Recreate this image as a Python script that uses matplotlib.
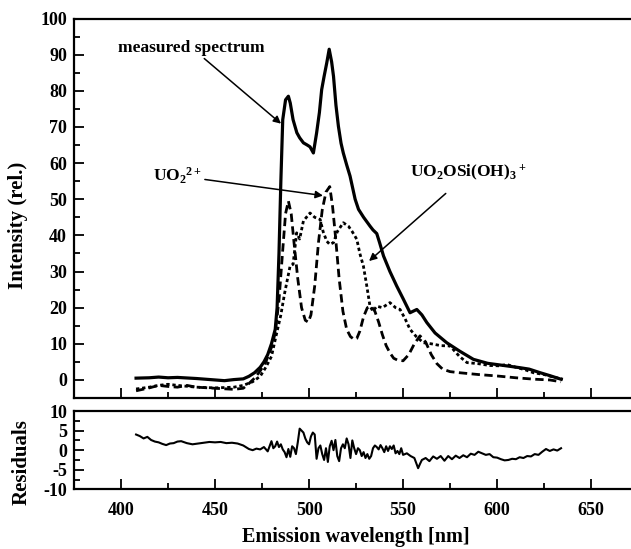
import matplotlib
matplotlib.use("Agg")
import matplotlib.pyplot as plt
from matplotlib.ticker import MultipleLocator

plt.rcParams['font.family'] = ['Liberation Serif', 'DejaVu Serif']
plt.rcParams['font.weight'] = 'bold'
plt.rcParams['axes.labelweight'] = 'bold'
plt.rcParams['axes.unicode_minus'] = False
plt.rcParams['mathtext.fontset'] = 'custom'
plt.rcParams['mathtext.rm'] = 'Liberation Serif:bold'
plt.rcParams['mathtext.it'] = 'Liberation Serif:bold'
plt.rcParams['mathtext.bf'] = 'Liberation Serif:bold'

# measured spectrum
wl_meas = [408, 415, 420, 425, 430, 440, 450, 455, 460, 465, 468, 471, 474, 476, 478, 480, 482, 483, 484, 485,
           486, 487.5, 489, 490, 491.5, 493.5, 495, 497, 499, 500.5, 502.3, 504, 505.5, 506.7, 508, 509.4, 510.7,
           512, 513, 514.3, 515.6, 517, 518.2, 520, 521.8, 524.5, 526.3, 529, 532.5, 534, 536, 537.5, 539.6, 543,
           546.6, 550, 553.7, 557.3, 560, 562.6, 567, 573.2, 580, 587.4, 595, 605, 612, 617, 622.9, 628, 634]
int_meas = [0.5, 0.6, 0.8, 0.6, 0.7, 0.4, 0.0, -0.2, 0.1, 0.3, 1.0, 2.0, 3.5, 5.0, 7.0, 10.0, 14.0, 20.0, 35.0, 55.0,
            72.0, 77.5, 78.5, 76.6, 72.0, 68.4, 67.0, 65.6, 65.0, 64.5, 62.8, 68.3, 74.0, 80.3, 84.0, 87.7, 91.5,
            88.0, 84.0, 76.0, 70.2, 65.5, 62.8, 59.5, 56.4, 50.0, 47.2, 45.0, 42.5, 41.5, 40.5, 38.0, 34.3, 30.0,
            26.0, 22.5, 18.6, 19.5, 18.0, 15.9, 13.0, 10.3, 8.0, 5.7, 4.6, 3.9, 3.4, 3.0, 2.0, 1.2, 0.2]

# UO2 2+ component (dashed)
wl_uo2 = [408, 415, 420, 425, 430, 435, 440, 450, 460, 465, 468, 471, 474, 477, 480, 482, 484, 486, 487.5, 489,
          490.5, 492, 494, 496, 498, 499.6, 501, 503, 505, 507, 509, 511, 512.5, 514, 516, 518, 520, 522, 524, 525.4,
          527, 529, 531, 533, 535, 537, 539, 541, 543, 545, 547, 550, 553, 556, 559, 562, 565, 568, 571, 575,
          580, 590, 600, 610, 620, 628, 634]
int_uo2 = [-3.0, -2.2, -1.5, -1.8, -2.0, -1.5, -2.0, -2.3, -2.6, -2.3, -1.0, 0.5, 2.5, 5.0, 9.0, 13.0, 22.0, 36.0, 46.0, 49.5,
           46.0, 38.0, 28.0, 20.0, 16.5, 16.0, 18.0, 26.0, 38.0, 47.0, 52.0, 53.5, 48.0, 40.0, 28.0, 19.0, 14.0, 12.0, 11.2, 11.5,
           13.5, 17.5, 20.0, 20.4, 19.0, 16.0, 12.5, 9.5, 7.5, 6.0, 5.5, 5.3, 7.0, 10.0, 12.2, 10.5, 7.0, 4.5, 3.0, 2.3,
           2.0, 1.5, 1.1, 0.6, 0.2, 0.0, -0.5]

# UO2OSi(OH)3+ component (dotted)
wl_si = [408, 415, 420, 425, 430, 440, 450, 460, 465, 470, 474, 477, 480, 482.8, 485, 487, 489.9, 491.5, 493.4, 495,
         497, 500.5, 503, 505.9, 507.5, 509.4, 511, 513, 515, 518.2, 521, 523, 525.4, 527, 528.9, 530.7, 532.4, 534, 536, 539,
         543, 546, 548.4, 551, 553.7, 557, 560.8, 565, 570, 575, 580, 584, 590, 596, 601.6, 605, 610, 615, 619.3, 625,
         630, 635]
int_si = [-2.5, -2.0, -1.5, -1.2, -1.5, -2.0, -2.2, -2.0, -1.5, -0.5, 1.0, 3.5, 6.5, 13.0, 18.0, 24.0, 31.5, 32.0, 40.7, 39.0,
          44.0, 46.2, 45.0, 44.4, 41.0, 38.4, 37.5, 38.0, 41.0, 43.5, 42.5, 41.0, 38.9, 35.0, 31.5, 26.0, 20.4, 19.0, 20.4, 20.0,
          21.4, 20.0, 19.5, 17.0, 14.0, 12.0, 10.3, 10.0, 9.5, 9.4, 6.5, 4.8, 4.5, 4.0, 3.9, 4.3, 3.5, 2.8, 2.0, 1.5,
          0.8, 0.2]

# residuals
wl_res = [408, 410, 412, 414, 416, 418, 420, 422, 424, 426, 428, 430, 432, 435, 438, 441, 444, 447, 450, 453,
          456, 459, 462, 465, 468, 470, 472, 474, 476, 478, 480, 481, 482, 483, 484, 485, 486, 487, 488, 489,
          490, 491, 492, 493, 494, 495, 496, 497, 498, 499, 500, 501, 502, 503, 504, 505, 506, 507, 508, 509,
          510, 511, 512, 513, 514, 515, 516, 517, 518, 519, 520, 521, 522, 523, 524, 525, 526, 527, 528, 529,
          530, 531, 532, 533, 534, 535, 536, 537, 538, 539, 540, 541, 542, 543, 544, 545, 546, 547, 548, 549,
          550, 552, 554, 556, 558, 559, 560, 562, 564, 566, 568, 570, 572, 574, 576, 578, 580, 582, 584, 586,
          588, 590, 592, 594, 596, 598, 600, 602, 604, 606, 608, 610, 612, 614, 616, 618, 620, 622, 624, 626,
          628, 630, 632, 634]
res = [4.0, 3.6, 3.0, 3.4, 2.6, 2.2, 2.0, 1.6, 1.3, 1.7, 1.8, 2.2, 2.3, 1.8, 1.5, 1.7, 1.9, 2.1, 2.0, 2.1,
       1.8, 1.9, 1.7, 1.2, 0.3, 0.0, 0.4, 0.2, 0.8, -0.3, 2.3, 0.5, 1.0, 2.2, 0.8, 1.5, 0.2, -0.5, -1.8, 0.3,
       -1.7, 1.0, 0.5, -1.0, 2.0, 5.5, 5.0, 4.5, 3.0, 2.0, 1.5, 3.5, 4.5, 4.0, -2.2, 0.5, 1.2, -1.0, -2.5, 0.5,
       -3.0, 1.0, 2.4, 0.0, 2.6, -1.5, -2.8, 0.5, 1.5, 0.5, 3.0, 1.5, -2.0, 2.5, 0.5, -1.0, 0.5, 0.0, -1.5, -0.5,
       -2.0, -1.0, -2.2, -1.5, 0.5, 1.2, 0.8, 0.2, 1.3, 0.5, -0.5, 1.0, -0.2, 1.0, 0.3, 1.2, -0.8, -0.2, -1.0, 0.5,
       -1.2, -0.8, -1.5, -2.0, -4.6, -3.5, -2.5, -2.0, -2.8, -1.6, -2.2, -1.5, -2.7, -1.5, -2.3, -1.4, -2.0, -1.3, -1.8, -0.9,
       -1.2, -0.4, -0.8, -1.2, -1.0, -1.8, -1.9, -2.3, -2.6, -2.5, -2.2, -2.3, -1.8, -2.0, -1.5, -1.6, -1.0, -1.2, -0.4, 0.3,
       -0.2, 0.2, -0.1, 0.5]

fig = plt.figure(figsize=(6.31, 5.49), dpi=100)
ax = fig.add_axes([0.1173, 0.2750, 0.894, 0.6913])
ax2 = fig.add_axes([0.1173, 0.1087, 0.894, 0.1426])

ax.plot(wl_meas, int_meas, color='black', lw=2.3)
ax.plot(wl_uo2, int_uo2, color='black', lw=2.0, ls=(0, (3.0, 1.6)))
ax.plot(wl_si, int_si, color='black', lw=2.0, ls=(0, (1.2, 1.0)))

arrow = dict(arrowstyle='-|>', color='black', lw=1.1, mutation_scale=11, shrinkA=0, shrinkB=0)
ax.annotate('measured spectrum', xy=(485.1, 70.9), xytext=(437.5, 89.7), fontsize=12.5,
            arrowprops=arrow, ha='center', va='bottom')
ax.annotate('UO$_2$$^{2+}$', xy=(507.4, 51.0), xytext=(443.1, 56.5), fontsize=12.5,
            arrowprops=arrow, ha='right', va='center')
ax.text(553.7, 57.4, 'UO$_2$OSi(OH)$_3$$^+$', fontsize=12.5, ha='left', va='center')
ax.annotate('', xy=(531.9, 32.9), xytext=(572.7, 51.6), arrowprops=arrow)

for a in (ax, ax2):
    a.set_xlim(375, 675)
    a.xaxis.set_major_locator(MultipleLocator(50))
    a.xaxis.set_minor_locator(MultipleLocator(25))
    a.tick_params(which='both', direction='in', labelsize=13, width=1.3)
    a.tick_params(which='major', length=7)
    a.tick_params(which='minor', length=4)
    a.tick_params(axis='y', pad=5)
    a.tick_params(axis='x', pad=9)
    for s in a.spines.values():
        s.set_linewidth(1.6)

ax.set_ylim(-5, 100)
ax.yaxis.set_major_locator(MultipleLocator(10))
ax.yaxis.set_minor_locator(MultipleLocator(5))
ax.tick_params(axis='x', labelbottom=False)
ax.set_ylabel('Intensity (rel.)', fontsize=15)
ax.yaxis.set_label_coords(-0.082, 0.456)

ax2.plot(wl_res, res, color='black', lw=1.5)
ax2.set_ylim(-10, 10)
ax2.yaxis.set_major_locator(MultipleLocator(5))
ax2.yaxis.set_minor_locator(MultipleLocator(2.5))
ax2.set_ylabel('Residuals', fontsize=15)
ax2.yaxis.set_label_coords(-0.076, 0.35)
ax2.set_xlabel('Emission wavelength [nm]', fontsize=14.5, labelpad=6)

fig.savefig('out.png', dpi=100)
